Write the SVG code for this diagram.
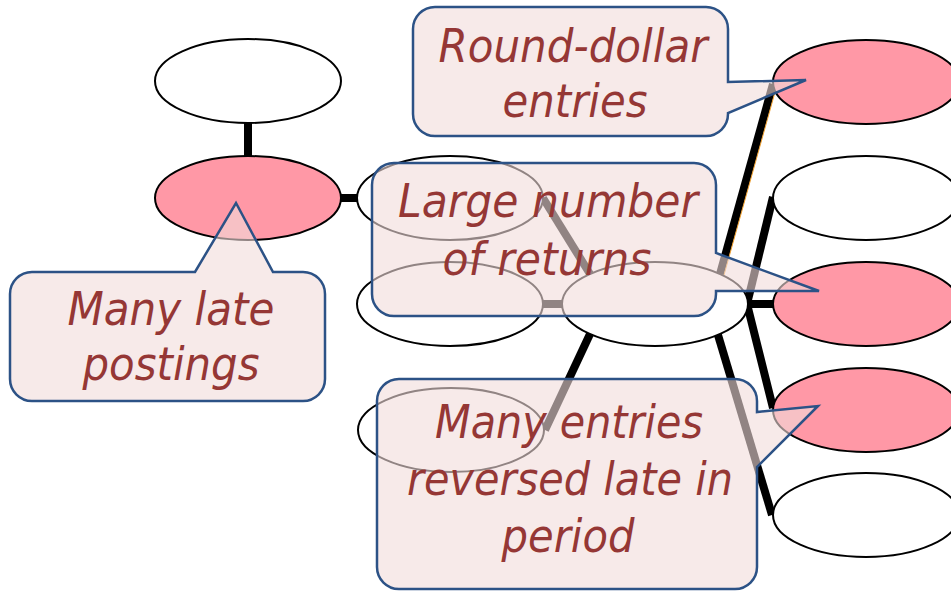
<svg xmlns="http://www.w3.org/2000/svg" width="951" height="593" viewBox="0 0 951 593">
  <style>
    .node { fill: #ffffff; stroke: #000000; stroke-width: 2; }
    .hot { fill: #ff98a6; }
    .link { stroke: #000000; stroke-width: 8; fill: none; }
    .callout path { fill: #f2dcdb; fill-opacity: 0.6; stroke: #2c5286; stroke-width: 2.5; stroke-linejoin: miter; }
    .callout text { font-family: "DejaVu Sans", "Liberation Sans", sans-serif; font-style: italic; font-size: 46px; fill: #953735; text-anchor: middle; }
  </style>
  <rect width="951" height="593" fill="#ffffff"/>

  <!-- connectors -->
  <g id="connectors">
    <line class="link" x1="248" y1="120" x2="248" y2="158"/>
    <line class="link" x1="338" y1="198" x2="360" y2="198"/>
    <line class="link" x1="543" y1="198" x2="590" y2="274"/>
    <line class="link" x1="540" y1="304" x2="565" y2="304"/>
    <line class="link" x1="590" y1="334" x2="545" y2="430"/>
    <line class="link" x1="718" y1="335" x2="772" y2="515"/>
    <line class="link" x1="720" y1="274" x2="773" y2="84"/>
    <line x1="724" y1="275" x2="777" y2="85" stroke="#f0a030" stroke-width="1"/>
    <line class="link" x1="747" y1="304" x2="773" y2="197"/>
    <line class="link" x1="747" y1="304" x2="775" y2="304"/>
    <line class="link" x1="747" y1="304" x2="773" y2="408"/>
  </g>

  <!-- tree nodes -->
  <g id="node-top-left"><ellipse class="node" cx="248" cy="81" rx="93" ry="42"/></g>
  <g id="node-late-postings"><ellipse class="node hot" cx="248" cy="198" rx="93" ry="42"/></g>
  <g id="node-mid-upper"><ellipse class="node" cx="450" cy="198" rx="93" ry="42"/></g>
  <g id="node-mid-lower"><ellipse class="node" cx="450" cy="304" rx="93" ry="42"/></g>
  <g id="node-hub"><ellipse class="node" cx="655" cy="304" rx="93" ry="42"/></g>
  <g id="node-bottom-left"><ellipse class="node" cx="451" cy="430" rx="93" ry="42"/></g>
  <g id="node-round-dollar"><ellipse class="node hot" cx="866" cy="82" rx="93" ry="42"/></g>
  <g id="node-right-2"><ellipse class="node" cx="866" cy="198" rx="93" ry="42"/></g>
  <g id="node-returns"><ellipse class="node hot" cx="866" cy="304" rx="93" ry="42"/></g>
  <g id="node-reversals"><ellipse class="node hot" cx="866" cy="410" rx="93" ry="42"/></g>
  <g id="node-right-5"><ellipse class="node" cx="866" cy="515" rx="93" ry="42"/></g>

  <!-- callouts -->
  <g id="callout-late-postings" class="callout">
    <path d="M 32,272 H 195 L 236,203 L 273,272 H 303 A 22 22 0 0 1 325,294 V 379 A 22 22 0 0 1 303,401 H 32 A 22 22 0 0 1 10,379 V 294 A 22 22 0 0 1 32,272 Z"/>
    <text x="171" y="325" textLength="207" lengthAdjust="spacingAndGlyphs">Many late</text>
    <text x="171" y="380" textLength="177" lengthAdjust="spacingAndGlyphs">postings</text>
  </g>

  <g id="callout-round-dollar" class="callout">
    <path d="M 435,7 H 706 A 22 22 0 0 1 728,29 V 82 L 806,80 L 728,113 V 114 A 22 22 0 0 1 706,136 H 435 A 22 22 0 0 1 413,114 V 29 A 22 22 0 0 1 435,7 Z"/>
    <text x="573" y="62" textLength="269" lengthAdjust="spacingAndGlyphs">Round-dollar</text>
    <text x="575" y="117" textLength="145" lengthAdjust="spacingAndGlyphs">entries</text>
  </g>

  <g id="callout-returns" class="callout">
    <path d="M 394,163 H 694 A 22 22 0 0 1 716,185 V 253 L 819,291 L 716,291 V 294 A 22 22 0 0 1 694,316 H 394 A 22 22 0 0 1 372,294 V 185 A 22 22 0 0 1 394,163 Z"/>
    <text x="548" y="217" textLength="300" lengthAdjust="spacingAndGlyphs">Large number</text>
    <text x="547" y="275" textLength="209" lengthAdjust="spacingAndGlyphs">of returns</text>
  </g>

  <g id="callout-reversals" class="callout">
    <path d="M 399,379 H 735 A 22 22 0 0 1 757,401 V 412 L 818,406 L 757,467 V 567 A 22 22 0 0 1 735,589 H 399 A 22 22 0 0 1 377,567 V 401 A 22 22 0 0 1 399,379 Z"/>
    <text x="569" y="438" textLength="268" lengthAdjust="spacingAndGlyphs">Many entries</text>
    <text x="570" y="495" textLength="326" lengthAdjust="spacingAndGlyphs">reversed late in</text>
    <text x="568" y="552" textLength="133" lengthAdjust="spacingAndGlyphs">period</text>
  </g>
</svg>
